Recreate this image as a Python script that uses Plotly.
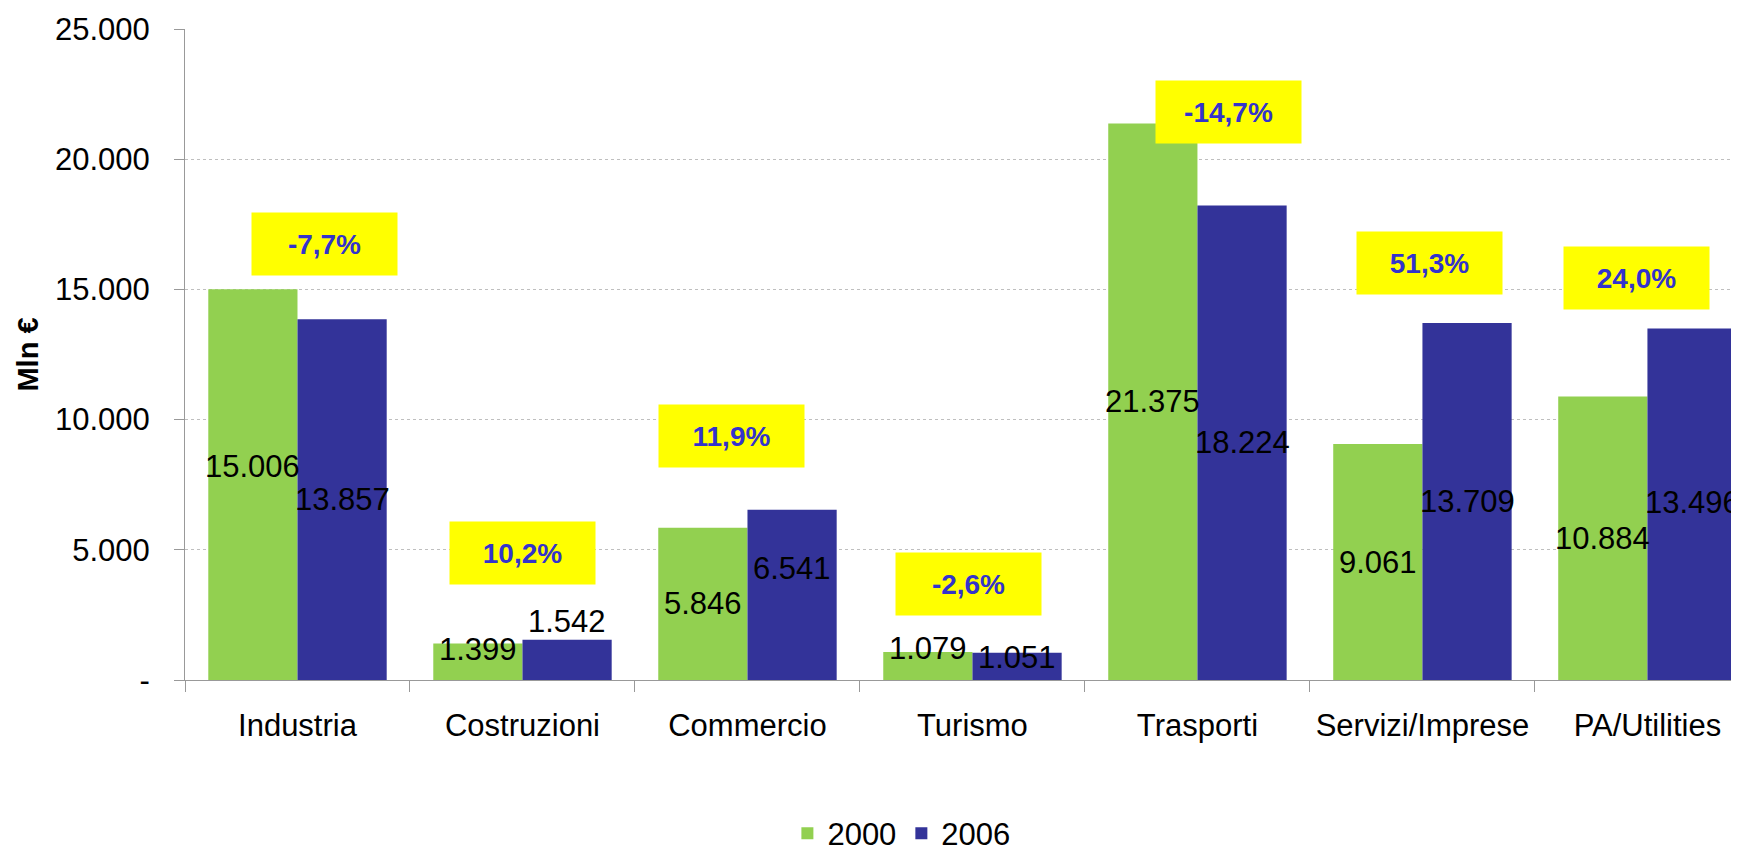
import plotly.graph_objects as go

# ---------------- data ----------------
categories = ["Industria", "Costruzioni", "Commercio", "Turismo",
              "Trasporti", "Servizi/Imprese", "PA/Utilities"]
values_2000 = [15006, 1399, 5846, 1079, 21375, 9061, 10884]
values_2006 = [13857, 1542, 6541, 1051, 18224, 13709, 13496]
series_names = ["2000", "2006"]
y_tick_values = [0, 5000, 10000, 15000, 20000, 25000]
y_tick_labels = ["-", "5.000", "10.000", "15.000", "20.000", "25.000"]

# ---------------- styling / placement ----------------
GREEN = "#92D050"
BLUE = "#333399"
PCT_BLUE = "#3333CC"
FONT = "Liberation Sans, Arial, sans-serif"
BARGAP = 0.207
CAT_PX = 225.0                     # approx. pixel width of one category
box_y = [16750, 4880, 9370, 3690, 21810, 16030, 15440]      # label-box placement
box_xshift = [27, 0, -16, -4, 31, 7, -11]
label_yshift_2000 = [18, 12, 0, 17, 0, 0, 0]                # nudges of value labels (px)
label_yshift_2006 = [0, 38, 26, 9, 0, 0, 2]


def fmt_int(v):
    return f"{v:,}".replace(",", ".")


def fmt_pct(a, b):
    return f"{(b / a - 1) * 100:.1f}%".replace(".", ",")


fig = go.Figure()
for name, vals, col in [(series_names[0], values_2000, GREEN),
                        (series_names[1], values_2006, BLUE)]:
    fig.add_trace(go.Bar(name=name, x=categories, y=vals,
                         marker=dict(color=col, line=dict(width=0))))

# value labels (centred on each bar)
bar_off = (1 - BARGAP) / 4 * CAT_PX
for vals, sign, shifts in [(values_2000, -1, label_yshift_2000),
                           (values_2006, 1, label_yshift_2006)]:
    for i, c in enumerate(categories):
        fig.add_annotation(
            x=c, y=vals[i] / 2, xref="x", yref="y", xshift=sign * bar_off,
            yshift=shifts[i], text=fmt_int(vals[i]), showarrow=False,
            xanchor="center", yanchor="middle",
            font=dict(family=FONT, size=31, color="black"),
        )

# percentage change boxes
for i, c in enumerate(categories):
    fig.add_annotation(
        x=c, y=box_y[i], xref="x", yref="y", xshift=box_xshift[i],
        text="<b>" + fmt_pct(values_2000[i], values_2006[i]) + "</b>",
        showarrow=False, bgcolor="#FFFF00", width=145, height=62,
        borderpad=0, align="center", valign="middle",
        font=dict(family=FONT, size=28, color=PCT_BLUE),
    )

fig.update_layout(
    width=1731, height=843, autosize=False,
    margin=dict(l=177, r=0, t=21, b=171, autoexpand=False),
    paper_bgcolor="white", plot_bgcolor="white",
    barmode="group", bargap=BARGAP, bargroupgap=0,
    font=dict(family=FONT, size=31, color="black"),
    legend=dict(orientation="h", x=0.461, xanchor="center", y=-0.236,
                yanchor="middle", font=dict(family=FONT, size=31, color="black")),
    xaxis=dict(type="category", range=[-0.5, 6.407], showline=True,
               linecolor="#999999", linewidth=1, ticks="outside",
               tickson="boundaries", ticklen=11, tickcolor="#999999",
               showgrid=False, automargin=False, ticklabelstandoff=18,
               tickfont=dict(family=FONT, size=31, color="black")),
    yaxis=dict(range=[0, 25000], tickvals=y_tick_values, ticktext=y_tick_labels,
               showgrid=True, gridcolor="#BFBFBF", griddash="dot", gridwidth=1,
               showline=True, linecolor="#999999", linewidth=1, automargin=False,
               ticks="outside", ticklen=10, tickcolor="#999999", zeroline=False,
               tickfont=dict(family=FONT, size=31, color="black"),
               ticklabelstandoff=18,
               title=dict(text="<b>Mln €</b>", standoff=7,
                          font=dict(family=FONT, size=29, color="black"))),
)

fig.write_html("out.html")
